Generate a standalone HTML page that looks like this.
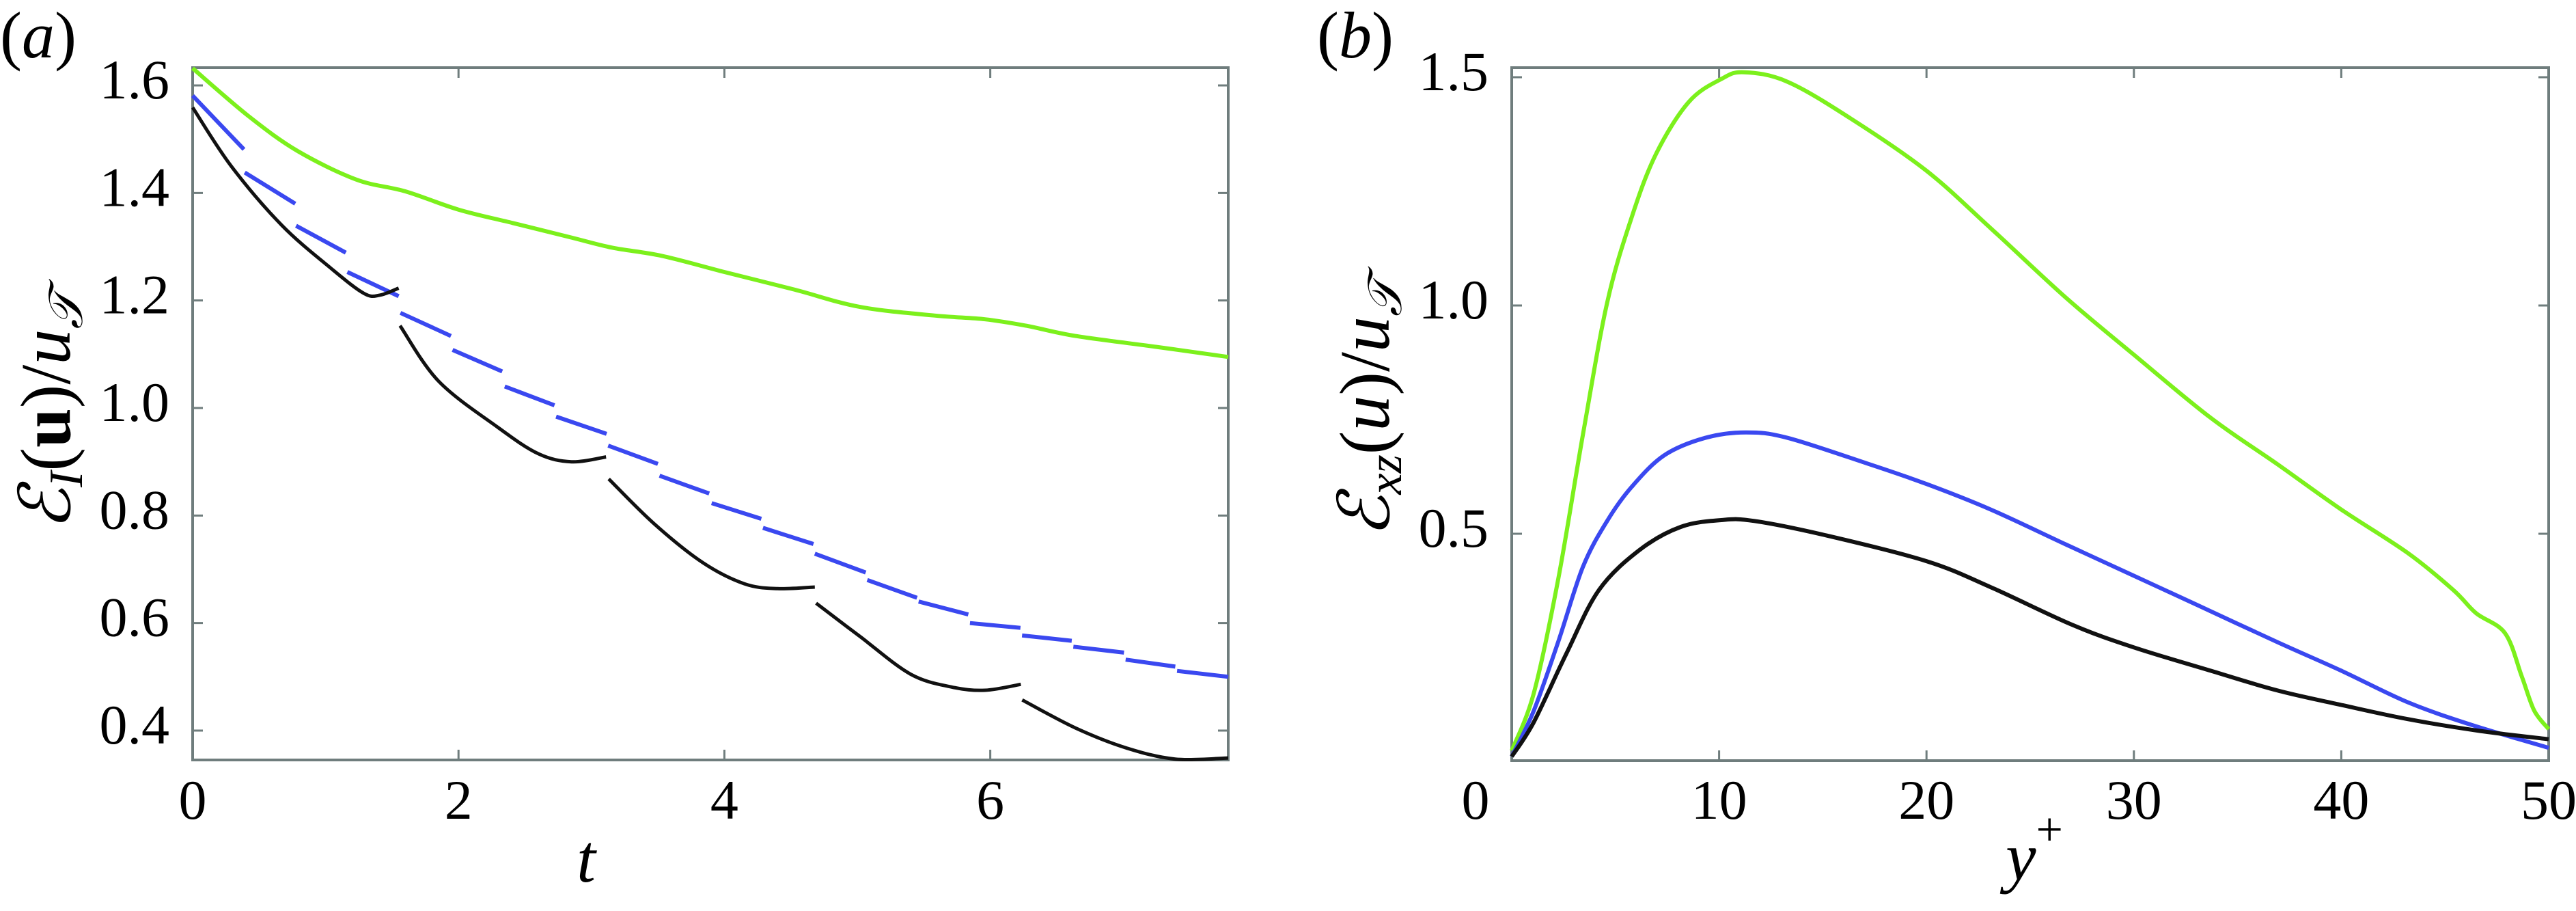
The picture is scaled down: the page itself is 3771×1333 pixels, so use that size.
<!DOCTYPE html>
<html><head><meta charset="utf-8"><style>
html,body{margin:0;padding:0;background:#fff;}
svg, svg text{font-family:"Liberation Serif","Times New Roman",serif;}
</style></head><body>
<svg id="fig" width="3771" height="1328" viewBox="0 0 3771 1328" xmlns="http://www.w3.org/2000/svg" font-family="Liberation Serif, Times New Roman, serif">
<g id="pa"></g>
<g id="pb"></g>
<text x="0" y="84" font-size="96" font-family="Liberation Serif, serif">(<tspan font-style="italic">a</tspan>)</text>
<text x="1928" y="84" font-size="96" font-family="Liberation Serif, serif">(<tspan font-style="italic">b</tspan>)</text>
<text x="858" y="1290" font-size="100" font-style="italic" font-family="Liberation Serif, serif" text-anchor="middle">t</text>
<text x="2978" y="1287" font-size="100" font-family="Liberation Serif, serif" text-anchor="middle"><tspan font-style="italic">y</tspan><tspan font-size="70" dy="-50">+</tspan></text>
<text transform="translate(102,602) rotate(-90)" font-size="104" font-family="Liberation Serif, serif" text-anchor="middle"><tspan font-style="italic">ℰ</tspan><tspan font-size="70" dy="18" font-style="italic">I</tspan><tspan dy="-18">(</tspan><tspan font-weight="bold">u</tspan><tspan>)/</tspan><tspan font-style="italic">u</tspan><tspan font-size="70" dy="18" font-style="italic">𝒯</tspan></text>
<text transform="translate(2033,598) rotate(-90)" font-size="104" font-family="Liberation Serif, serif" text-anchor="middle"><tspan font-style="italic">ℰ</tspan><tspan font-size="70" dy="18" font-style="italic">xz</tspan><tspan dy="-18">(</tspan><tspan font-style="italic">u</tspan><tspan>)/</tspan><tspan font-style="italic">u</tspan><tspan font-size="70" dy="18" font-style="italic">𝒯</tspan></text>
</svg>
<script>
// ---------- Panel (a) data ----------
const aXTicks = [0, 2, 4, 6];
const aYTicks = [0.4, 0.6, 0.8, 1.0, 1.2, 1.4, 1.6];
const aYTickLabels = ["0.4", "0.6", "0.8", "1.0", "1.2", "1.4", "1.6"];
const greenT = [0, 0.42, 0.79, 1.23, 1.6, 2, 2.41, 2.85, 3.16, 3.53, 4, 4.53, 5.02, 5.58, 5.96, 6.27, 6.64, 7.27, 7.79];
const greenV = [1.632, 1.543, 1.478, 1.425, 1.403, 1.369, 1.344, 1.317, 1.298, 1.283, 1.253, 1.220, 1.188, 1.172, 1.165, 1.153, 1.134, 1.113, 1.095];
const blackSegT = [
  [0, 0.29, 0.67, 1.04, 1.29, 1.41, 1.55],
  [1.56, 1.85, 2.29, 2.6, 2.85, 3.11],
  [3.13, 3.47, 3.84, 4.15, 4.4, 4.68],
  [4.69, 5.02, 5.4, 5.71, 5.96, 6.23],
  [6.24, 6.64, 7.02, 7.39, 7.79]
];
const blackSegV = [
  [1.559, 1.45, 1.34, 1.26, 1.213, 1.210, 1.223],
  [1.153, 1.05, 0.965, 0.915, 0.900, 0.909],
  [0.868, 0.785, 0.712, 0.673, 0.664, 0.667],
  [0.637, 0.575, 0.505, 0.481, 0.475, 0.486],
  [0.457, 0.405, 0.368, 0.347, 0.349]
];
const blueStartT = [0, 0.392, 0.778, 1.164, 1.563, 1.955, 2.348, 2.734, 3.126, 3.512, 3.904, 4.29, 4.68, 5.075, 5.461, 5.847, 6.239, 6.625, 7.018, 7.405];
const blueEndT   = [0.386, 0.772, 1.152, 1.55, 1.943, 2.329, 2.722, 3.114, 3.5, 3.886, 4.278, 4.67, 5.063, 5.449, 5.835, 6.227, 6.613, 7.006, 7.392, 7.79];
const blueStartV = [1.581, 1.438, 1.339, 1.253, 1.177, 1.108, 1.040, 0.984, 0.930, 0.874, 0.823, 0.777, 0.729, 0.680, 0.640, 0.600, 0.577, 0.556, 0.532, 0.511];
const blueEndV   = [1.481, 1.380, 1.289, 1.208, 1.134, 1.068, 1.005, 0.952, 0.896, 0.841, 0.794, 0.747, 0.694, 0.647, 0.616, 0.591, 0.567, 0.545, 0.519, 0.500];

// ---------- Panel (b) data ----------
const bXTicks = [0, 10, 20, 30, 40, 50];
const bYTicks = [0.5, 1.0, 1.5];
const bYTickLabels = ["0.5", "1.0", "1.5"];
const bGreenX = [0, 1.06, 2.24, 3.43, 4.6, 5.79, 6.97, 8.54, 10.1, 11.2, 13.3, 16.4, 20, 23.1, 26.7, 30, 33.7, 36.9, 40, 43.2, 45.4, 46.5, 47.9, 48.7, 49.3, 50];
const bGreenV = [0.025, 0.15, 0.40, 0.716, 1.006, 1.194, 1.333, 1.446, 1.496, 1.511, 1.49, 1.408, 1.295, 1.169, 1.018, 0.892, 0.754, 0.653, 0.553, 0.458, 0.377, 0.326, 0.282, 0.188, 0.113, 0.072];
const bBlueX = [0, 1.06, 2.24, 3.43, 4.6, 5.79, 7.36, 9.33, 11.3, 13.3, 17.2, 20, 23.1, 26.7, 30, 33, 36.9, 40, 43.2, 46.3, 50];
const bBlueV = [0.012, 0.112, 0.263, 0.427, 0.528, 0.603, 0.672, 0.710, 0.722, 0.71, 0.653, 0.609, 0.553, 0.477, 0.408, 0.345, 0.263, 0.2, 0.131, 0.081, 0.031];
const bBlackX = [0, 1.06, 2.64, 4.21, 6.18, 8.15, 10.1, 11.7, 15.2, 20, 23.1, 27, 30, 33.7, 36.9, 40, 43.2, 46.7, 50];
const bBlackV = [0.012, 0.087, 0.238, 0.377, 0.465, 0.515, 0.530, 0.528, 0.496, 0.44, 0.383, 0.301, 0.251, 0.2, 0.157, 0.125, 0.094, 0.068, 0.05];

const NS = "http://www.w3.org/2000/svg";
const GREEN = "#7cf01c", BLUE = "#3a48f0", BLACK = "#111111", AX = "#6f7d7d";

function lin(d0, d1, r0, r1) { return v => r0 + (v - d0) / (d1 - d0) * (r1 - r0); }

const A = { L: 282, R: 1798, T: 99, B: 1112 };
const axA = lin(0, 7.79, A.L, A.R);
const ayA = lin(0.4, 1.6, 1069, 125);
const B = { L: 2213, R: 3731, T: 99, B: 1113 };
const axB = lin(0, 50, B.L, B.R);
const ayB = lin(0.5, 1.0, 781, 447);

function smoothPath(pts) {
  if (pts.length < 3) return "M" + pts.map(p => p[0].toFixed(1) + "," + p[1].toFixed(1)).join("L");
  let d = "M" + pts[0][0].toFixed(1) + "," + pts[0][1].toFixed(1);
  for (let i = 0; i < pts.length - 1; i++) {
    const p0 = pts[Math.max(0, i - 1)], p1 = pts[i], p2 = pts[i + 1], p3 = pts[Math.min(pts.length - 1, i + 2)];
    const c1x = p1[0] + (p2[0] - p0[0]) / 6, c1y = p1[1] + (p2[1] - p0[1]) / 6;
    const c2x = p2[0] - (p3[0] - p1[0]) / 6, c2y = p2[1] - (p3[1] - p1[1]) / 6;
    d += "C" + c1x.toFixed(1) + "," + c1y.toFixed(1) + " " + c2x.toFixed(1) + "," + c2y.toFixed(1) + " " + p2[0].toFixed(1) + "," + p2[1].toFixed(1);
  }
  return d;
}

function addPath(g, d, color, w, name) {
  const p = document.createElementNS(NS, "path");
  p.setAttribute("d", d);
  p.setAttribute("fill", "none");
  p.setAttribute("stroke", color);
  p.setAttribute("stroke-width", w);
  p.setAttribute("stroke-linecap", "butt");
  p.setAttribute("stroke-linejoin", "round");
  
  
  g.appendChild(p);
  return p;
}
function addText(g, x, y, s, anchor, name) {
  const t = document.createElementNS(NS, "text");
  t.setAttribute("x", x); t.setAttribute("y", y);
  t.setAttribute("font-size", "82");
  t.setAttribute("font-family", "Liberation Serif, Times New Roman, serif");
  t.setAttribute("text-anchor", anchor);
  t.textContent = s;
  
  
  g.appendChild(t);
}

function drawFrame(g, box, xt, xs, yt, ys, ylabels, name) {
  const r = document.createElementNS(NS, "rect");
  r.setAttribute("x", box.L); r.setAttribute("y", box.T);
  r.setAttribute("width", box.R - box.L); r.setAttribute("height", box.B - box.T);
  r.setAttribute("fill", "none"); r.setAttribute("stroke", AX); r.setAttribute("stroke-width", 4);
  
  
  g.appendChild(r);
  let d = "";
  xt.forEach(v => { const x = xs(v); d += `M${x},${box.B}V${box.B - 15}M${x},${box.T}V${box.T + 15}`; });
  yt.forEach(v => { const y = ys(v); d += `M${box.L},${y}H${box.L + 15}M${box.R},${y}H${box.R - 15}`; });
  addPath(g, d, AX, 3, name + "-ticks");
  xt.forEach(v => addText(g, xs(v) - (v === 0 && name === "b" ? 53 : 0), 1198, String(v), "middle", name + "-x-tick-label"));
  yt.forEach((v, i) => addText(g, box.L - 34, ys(v) + 19, ylabels[i], "end", name + "-y-tick-label"));
}

const ga = document.getElementById("pa");
drawFrame(ga, A, aXTicks, axA, aYTicks, ayA, aYTickLabels, "a");
addPath(ga, smoothPath(greenT.map((t, i) => [axA(t), ayA(greenV[i])])), GREEN, 6, "series-green-a");
blueStartT.forEach((t, i) => {
  addPath(ga, `M${axA(t).toFixed(1)},${ayA(blueStartV[i]).toFixed(1)}L${axA(blueEndT[i]).toFixed(1)},${ayA(blueEndV[i]).toFixed(1)}`, BLUE, 6, "series-blue-a-dash");
});
blackSegT.forEach((seg, k) => {
  addPath(ga, smoothPath(seg.map((t, i) => [axA(t), ayA(blackSegV[k][i])])), BLACK, 5, "series-black-a-segment");
});

const gb = document.getElementById("pb");
drawFrame(gb, B, bXTicks, axB, bYTicks, ayB, bYTickLabels, "b");
addPath(gb, smoothPath(bGreenX.map((x, i) => [axB(x), ayB(bGreenV[i])])), GREEN, 6, "series-green-b");
addPath(gb, smoothPath(bBlueX.map((x, i) => [axB(x), ayB(bBlueV[i])])), BLUE, 6, "series-blue-b");
addPath(gb, smoothPath(bBlackX.map((x, i) => [axB(x), ayB(bBlackV[i])])), BLACK, 6, "series-black-b");
</script>
</body></html>
